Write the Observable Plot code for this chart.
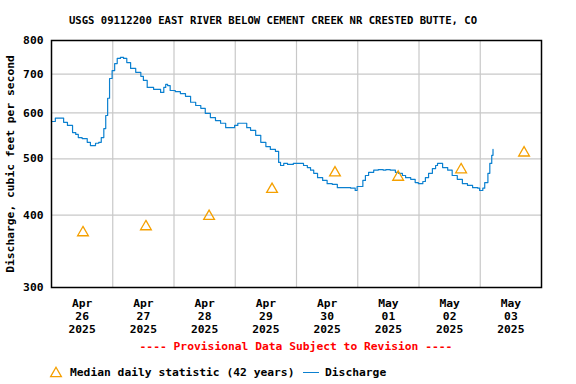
<!DOCTYPE html>
<html>
<head>
<meta charset="utf-8">
<script src="https://cdn.jsdelivr.net/npm/d3@7"></script>
<script src="https://cdn.jsdelivr.net/npm/@observablehq/plot@0.6"></script>
<style>
  html, body { margin: 0; padding: 0; background: #fff; }
  #wrap { position: relative; width: 576px; height: 384px; overflow: hidden;
          font-family: "DejaVu Sans Mono", monospace; font-weight: bold; color: #000; }
  #title { position: absolute; left: 0; width: 546px; top: 14px; text-align: center;
           font-size: 10.6px; line-height: 12px; white-space: nowrap; }
  #chart { position: absolute; left: 0; top: 30px; }
  #prov { position: absolute; left: 0; width: 592px; top: 340px; text-align: center;
          font-size: 11.3px; line-height: 13px; color: #ff0000; white-space: nowrap; }
  #legend { position: absolute; left: 0; top: 366px; width: 576px; height: 18px;
            font-size: 11.3px; line-height: 13px; white-space: nowrap; }
  #legend span { position: absolute; top: 0; }
  #legend .ln { top: 6px; height: 0; border-top: 1.5px solid #0b80d0; }
</style>
</head>
<body>
<div id="wrap">
  <div id="title"></div>
  <div id="chart"></div>
  <div id="prov"></div>
  <div id="legend"></div>
</div>
<script>
const titleText = "USGS 09112200 EAST RIVER BELOW CEMENT CREEK NR CRESTED BUTTE, CO";
const yLabel = "Discharge, cubic feet per second";
const provisionalText = "---- Provisional Data Subject to Revision ----";
const medianLegend = "Median daily statistic (42 years)";
const dischargeLegend = "Discharge";

// Day labels (placed at noon of each day), and gridline days (midnights)
const dayLabels = ["2025-04-26","2025-04-27","2025-04-28","2025-04-29","2025-04-30","2025-05-01","2025-05-02","2025-05-03"];
const gridDays = ["2025-04-27","2025-04-28","2025-04-29","2025-04-30","2025-05-01","2025-05-02","2025-05-03"];
const yTicks = [300, 400, 500, 600, 700, 800];

// Median daily statistic (42 years): where each point is drawn, and its value
const medianTime = ["2025-04-26T12:20","2025-04-27T13:00","2025-04-28T13:45","2025-04-29T14:25",
                    "2025-04-30T15:05","2025-05-01T15:50","2025-05-02T16:30","2025-05-03T17:10"];
const medianCfs = [373, 382, 398, 443, 473, 465, 479, 512];

// Discharge, cfs (instantaneous)
const dischargeTime = [
  "2025-04-26T00:00","2025-04-26T01:30","2025-04-26T03:30","2025-04-26T04:45","2025-04-26T06:15","2025-04-26T08:15",
  "2025-04-26T09:30","2025-04-26T10:30","2025-04-26T12:00","2025-04-26T14:00","2025-04-26T15:15","2025-04-26T17:15",
  "2025-04-26T18:30","2025-04-26T19:30","2025-04-26T20:30","2025-04-26T21:15","2025-04-26T22:00","2025-04-26T22:45",
  "2025-04-26T23:45","2025-04-27T00:45","2025-04-27T01:45","2025-04-27T03:00","2025-04-27T04:15","2025-04-27T05:30",
  "2025-04-27T07:00","2025-04-27T09:00","2025-04-27T11:00","2025-04-27T12:00","2025-04-27T13:30","2025-04-27T16:00",
  "2025-04-27T18:45","2025-04-27T20:00","2025-04-27T20:45","2025-04-27T21:30","2025-04-27T22:30","2025-04-28T00:30",
  "2025-04-28T02:30","2025-04-28T04:30","2025-04-28T06:30","2025-04-28T08:30","2025-04-28T10:30","2025-04-28T12:15",
  "2025-04-28T14:15","2025-04-28T16:15","2025-04-28T18:15","2025-04-28T20:15","2025-04-28T22:00","2025-04-28T23:45",
  "2025-04-29T01:00","2025-04-29T02:45","2025-04-29T04:30","2025-04-29T06:00","2025-04-29T08:00","2025-04-29T10:00",
  "2025-04-29T12:00","2025-04-29T13:45","2025-04-29T15:45","2025-04-29T16:30","2025-04-29T17:00","2025-04-29T17:45",
  "2025-04-29T19:00","2025-04-29T20:30","2025-04-29T22:45","2025-04-30T01:30","2025-04-30T02:45","2025-04-30T04:15",
  "2025-04-30T05:30","2025-04-30T06:45","2025-04-30T08:15","2025-04-30T10:15","2025-04-30T12:00","2025-04-30T14:00",
  "2025-04-30T16:00","2025-04-30T18:30","2025-04-30T21:15","2025-04-30T23:00","2025-04-30T23:45","2025-05-01T02:00",
  "2025-05-01T03:00","2025-05-01T04:15","2025-05-01T06:15","2025-05-01T08:00","2025-05-01T10:00","2025-05-01T11:00",
  "2025-05-01T12:45","2025-05-01T14:45","2025-05-01T16:00","2025-05-01T17:30","2025-05-01T18:45","2025-05-01T20:45",
  "2025-05-01T22:30","2025-05-01T23:45","2025-05-02T01:30","2025-05-02T02:30","2025-05-02T03:45","2025-05-02T05:15",
  "2025-05-02T06:30","2025-05-02T07:15","2025-05-02T09:15","2025-05-02T11:15","2025-05-02T13:00","2025-05-02T15:00",
  "2025-05-02T17:00","2025-05-02T19:00","2025-05-02T21:00","2025-05-02T23:00","2025-05-02T23:45","2025-05-03T01:00",
  "2025-05-03T01:45","2025-05-03T03:00","2025-05-03T03:45","2025-05-03T04:30","2025-05-03T05:00"
];
const dischargeCfs = [
  580, 588, 588, 578, 571, 555,
  551, 544, 542, 534, 527, 532,
  534, 544, 564, 594, 636, 688,
  710, 730, 745, 748, 745, 733,
  716, 705, 694, 683, 664, 659,
  651, 664, 672, 669, 656, 653,
  648, 641, 626, 618, 611, 599,
  589, 582, 576, 566, 566, 571,
  576, 576, 566, 560, 549, 534,
  525, 519, 515, 515, 493, 487,
  491, 489, 491, 491, 487, 483,
  478, 472, 464, 459, 453, 452,
  446, 446, 445, 441, 448, 459,
  468, 474, 478, 479, 478, 479,
  478, 474, 472, 468, 464, 461,
  455, 453, 457, 464, 472, 481,
  487, 491, 483, 478, 468, 461,
  453, 450, 446, 445, 441, 445,
  455, 472, 491, 507, 519
];

const utc = s => new Date(s + (s.length === 10 ? "T00:00Z" : "Z"));
const discharge = dischargeTime.map((t, i) => ({date: utc(t), cfs: dischargeCfs[i]}));
const noon = d => new Date(utc(d).getTime() + 12 * 3600e3);
const medians = medianTime.map((t, i) => ({date: utc(t), cfs: medianCfs[i]}));
const labelDates = dayLabels.map(noon);
const gridDates = gridDays.map(utc);
const fmt = d3.utcFormat("%b\n%d\n%Y");

document.getElementById("title").textContent = titleText;
document.getElementById("prov").textContent = provisionalText;

// Legend
const lg = document.getElementById("legend");
const svgNS = "http://www.w3.org/2000/svg";
const triSvg = document.createElementNS(svgNS, "svg");
triSvg.setAttribute("width", "14"); triSvg.setAttribute("height", "14");
triSvg.style.position = "absolute"; triSvg.style.left = "49px"; triSvg.style.top = "0px";
const triPath = document.createElementNS(svgNS, "path");
triPath.setAttribute("d", d3.symbol(d3.symbolTriangle, 50)());
triPath.setAttribute("transform", "translate(7,7.5)");
triPath.setAttribute("fill", "none"); triPath.setAttribute("stroke", "#f5a000"); triPath.setAttribute("stroke-width", "1.3");
triSvg.append(triPath);
const t1 = document.createElement("span"); t1.textContent = medianLegend; t1.style.left = "70px";
const ln = document.createElement("span"); ln.className = "ln"; ln.style.left = "303px"; ln.style.width = "16px";
const t2 = document.createElement("span"); t2.textContent = dischargeLegend; t2.style.left = "325px";
lg.append(triSvg, t1, ln, t2);

const chart = Plot.plot({
  width: 576,
  height: 310,
  marginLeft: 51,
  marginRight: 35,
  marginTop: 10,
  marginBottom: 53,
  style: {fontFamily: "DejaVu Sans Mono", fontWeight: "bold", fontSize: "11.3px", color: "#000", background: "#fff"},
  x: {type: "utc", domain: [utc("2025-04-26"), utc("2025-05-04")]},
  y: {type: "log", domain: [300, 800]},
  marks: [
    Plot.gridY([400, 500, 600, 700], {stroke: "#c8c8c8", strokeOpacity: 1, strokeWidth: 1.2}),
    Plot.gridX(gridDates, {stroke: "#c8c8c8", strokeOpacity: 1, strokeWidth: 1.2}),
    Plot.axisY(yTicks, {tickSize: 0, tickPadding: 8, tickFormat: d3.format("d"), fontSize: 11.3,
      label: yLabel, labelAnchor: "center", labelOffset: 46, labelArrow: "none"}),
    Plot.axisX(labelDates, {tickSize: 0, tickPadding: 10, tickFormat: fmt, lineHeight: 1.15, label: null}),
    Plot.line(discharge, {x: "date", y: "cfs", stroke: "#0b80d0", strokeWidth: 1.2, curve: "step-after"}),
    Plot.dot(medians, {x: "date", y: "cfs", symbol: "triangle", r: 4, stroke: "#f5a000", strokeWidth: 1.3, fill: "none"}),
    Plot.frame({stroke: "#000", strokeWidth: 1.5})
  ]
});
document.getElementById("chart").append(chart);
</script>
</body>
</html>
